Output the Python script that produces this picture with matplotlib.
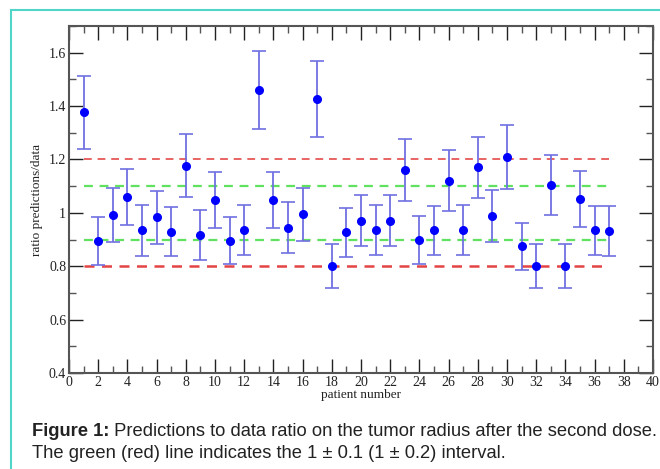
import matplotlib
matplotlib.use("Agg")
import matplotlib.pyplot as plt
from matplotlib.patches import Rectangle
from matplotlib.ticker import MultipleLocator, FuncFormatter

# ratio predictions/data per patient, with error bars
patients = list(range(1, 38))
ratio = [1.376, 0.895, 0.992, 1.059, 0.934, 0.983, 0.930, 1.177, 0.917, 1.049,
         0.896, 0.936, 1.461, 1.049, 0.945, 0.994, 1.426, 0.801, 0.927, 0.971,
         0.936, 0.971, 1.161, 0.899, 0.934, 1.121, 0.936, 1.171, 0.989, 1.209,
         0.874, 0.801, 1.104, 0.801, 1.052, 0.934, 0.932]
err = [0.137, 0.090, 0.100, 0.105, 0.094, 0.098, 0.093, 0.117, 0.092, 0.104,
       0.089, 0.094, 0.146, 0.104, 0.094, 0.099, 0.143, 0.081, 0.092, 0.097,
       0.094, 0.097, 0.117, 0.090, 0.093, 0.113, 0.094, 0.115, 0.098, 0.119,
       0.087, 0.081, 0.111, 0.081, 0.104, 0.093, 0.093]

green_band = [0.9, 1.1]
red_band = [0.8, 1.2]
line_span = [1, 37]

fig = plt.figure(figsize=(6.6, 4.69), dpi=100)

# teal frame around figure + caption
fig.patches.append(Rectangle((11 / 660, -0.1), 1.2, (469 - 10) / 469 + 0.1,
                             transform=fig.transFigure, fill=False,
                             edgecolor="#4fd6c6", linewidth=1.5))

ax = fig.add_axes([69 / 660, 96 / 469, 584 / 660, 347 / 469])

for y in red_band:
    ax.plot(line_span, [y, y], color="#e03030", lw=1.8 if y < 1 else 1.4,
            dashes=(4, 3), alpha=0.9 if y < 1 else 0.75, zorder=1)
for y in green_band:
    ax.plot(line_span, [y, y], color="#44dd44", lw=1.6, dashes=(4, 3),
            alpha=0.85, zorder=1)

ax.errorbar(patients, ratio, yerr=err, fmt="o", color="#0000ff", ms=5.5,
            ecolor="#7070e0", elinewidth=1.3, capsize=5, capthick=1.2, zorder=3)

ax.set_xlim(0, 40)
ax.set_ylim(0.4, 1.7)
ax.xaxis.set_major_locator(MultipleLocator(2))
ax.xaxis.set_minor_locator(MultipleLocator(1))
ax.yaxis.set_major_locator(MultipleLocator(0.2))
ax.yaxis.set_minor_locator(MultipleLocator(0.1))
ax.yaxis.set_major_formatter(FuncFormatter(lambda v, p: f"{v:g}"))
ax.tick_params(which="both", direction="in", top=True, right=True,
               color="#555555", width=1)
ax.tick_params(which="major", length=10)
ax.tick_params(which="minor", length=5)
ax.tick_params(labelsize=10, pad=2, colors="#222222")
for lab in ax.get_xticklabels() + ax.get_yticklabels():
    lab.set_family("Liberation Serif")
for sp in ax.spines.values():
    sp.set_color("#555555")
    sp.set_linewidth(1.5)

ax.set_xlabel("patient number", family="Liberation Serif", fontsize=9.5,
              labelpad=0, color="#222222")
ax.set_ylabel("ratio predictions/data", family="Liberation Serif", fontsize=9.5,
              labelpad=4, color="#222222")

# caption: bold "Figure 1:" followed by plain text
t1 = fig.text(32 / 660, 1 - 436 / 469, "Figure 1:", family="Liberation Sans",
              fontweight="bold", fontsize=13.2, color="#222222")
ax.annotate(" Predictions to data ratio on the tumor radius after the second dose.",
            xy=(1, 0), xycoords=t1, va="bottom", ha="left",
            family="Liberation Sans", fontsize=13.2, color="#222222",
            annotation_clip=False)
fig.text(32 / 660, 1 - 458 / 469,
         "The green (red) line indicates the 1 \u00b1 0.1 (1 \u00b1 0.2) interval.",
         family="Liberation Sans", fontsize=13.2, color="#222222")

fig.savefig("out.png", dpi=100)
